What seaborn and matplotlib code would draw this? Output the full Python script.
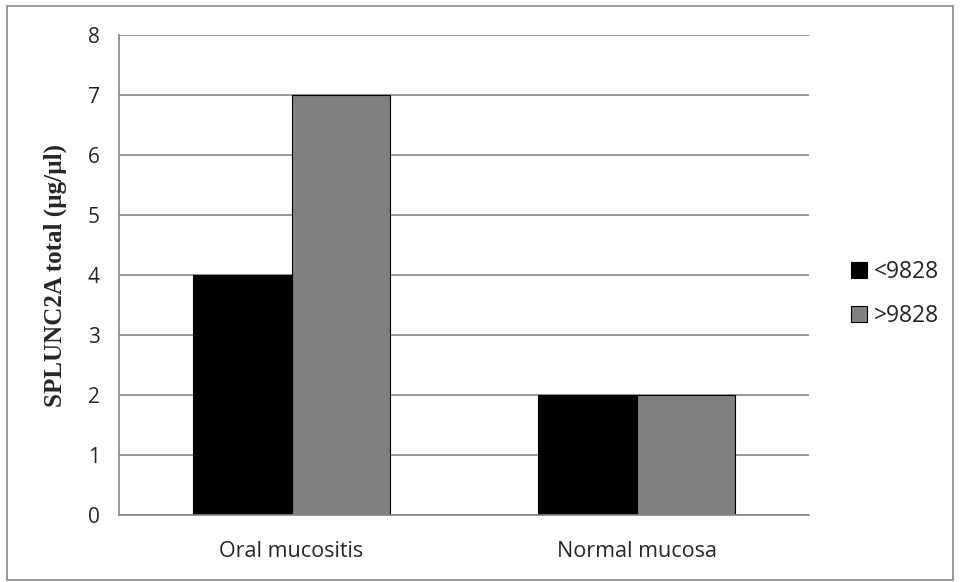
import pandas as pd
import seaborn as sns
import matplotlib.pyplot as plt
from matplotlib.patches import Rectangle

# data
groups = ['Oral mucositis', 'Normal mucosa']
series = ['<9828', '>9828']
low_vals = [4, 2]
high_vals = [7, 2]
yticks = [0, 1, 2, 3, 4, 5, 6, 7, 8]

df = pd.DataFrame({
    'Group': groups * 2,
    'Series': [series[0]] * 2 + [series[1]] * 2,
    'Value': low_vals + high_vals,
})

sns.set_style('white')
plt.rcParams['font.family'] = ['Open Sans', 'DejaVu Sans']

fig = plt.figure(figsize=(9.6, 5.82), dpi=100)
ax = fig.add_axes([0.124, 0.1151, 0.71875, 0.8247])

sns.barplot(data=df, x='Group', y='Value', hue='Series', order=groups,
            hue_order=series, palette=['#000000', '#808080'], width=0.57,
            edgecolor='black', linewidth=0.8, saturation=1, ax=ax)

ax.set_ylim(0, 8)
ax.set_xlim(-0.5, 1.5)
ax.set_yticks(yticks)
ax.yaxis.grid(True, color='#868686', linewidth=1.2)
ax.set_axisbelow(True)
for s in ['top', 'right']:
    ax.spines[s].set_visible(False)
for s in ['left', 'bottom']:
    ax.spines[s].set_color('#868686')
    ax.spines[s].set_linewidth(1.2)

ax.tick_params(axis='y', length=6, color='#868686', width=1.2, labelsize=15, pad=8)
ax.tick_params(axis='x', which='major', length=0, labelsize=15.5, pad=19)
ax.set_xticks([-0.5, 0.5, 1.5], minor=True)
ax.tick_params(axis='x', which='minor', length=6, color='#868686', width=1.2)

ax.set_xlabel('')
ax.set_ylabel('SPLUNC2A total (µg/µl)', family='Liberation Serif',
              fontweight='bold', fontsize=18, va='center')
ax.yaxis.set_label_coords(-0.093, 0.5)

leg = ax.legend(loc='center left', bbox_to_anchor=(851 / 960, 0.4948),
                bbox_transform=fig.transFigure, frameon=False, borderpad=0,
                borderaxespad=0, fontsize=16.5, handlelength=0.7,
                handleheight=0.7, handletextpad=0.3, labelspacing=0.9)
for h in leg.legend_handles:
    h.set_edgecolor('black')
    h.set_linewidth(0.8)

fig.patches.append(Rectangle((0.0073, 0.0034), 0.985, 0.986, transform=fig.transFigure,
                             fill=False, edgecolor='#868686', linewidth=1.2))

fig.savefig('out.png', dpi=100)
